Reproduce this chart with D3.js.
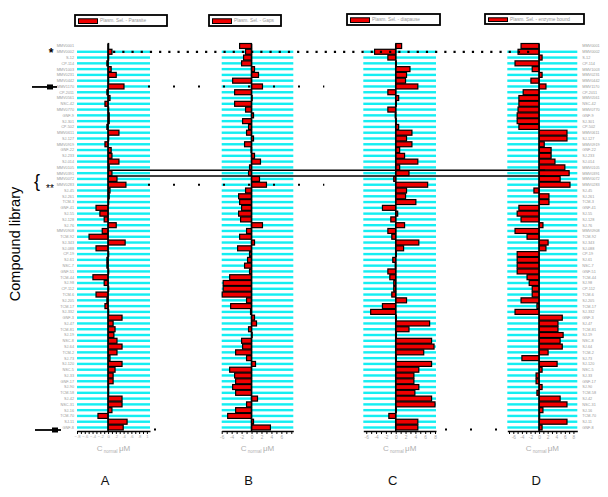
<!DOCTYPE html>
<html><head><meta charset="utf-8">
<script src="https://cdn.jsdelivr.net/npm/d3@7"></script>
<style>body{margin:0;background:#fff}svg{display:block;font-family:"Liberation Sans",Arial,sans-serif}</style>
</head><body><svg id="c" width="608" height="497"></svg>
<script>
// ---------- data ----------
const compounds = ["MMV0001","MMV0002","S-12","CP-114","MMV1003","MMV0231","MMV0442","MMV1170","CP-2011","MMV0561","NSC-42","MMV0770","GNF-9","SJ-301","CP-502","MMV0611","SJ-127","MMV0919","GNF-22","SJ-233","SJ-014","MMV0105","MMV0391","MMV0072","MMV0283","SJ-45","SJ-261","TCM-3","GNF-41","SJ-55","SJ-128","SJ-76","MMV0908","TCM-92","SJ-343","SJ-088","CP-19","SJ-61","NSC-7","GNF-51","TCM-44","SJ-98","CP-112","TCM-6","SJ-205","TCM-17","SJ-332","GNF-3","SJ-47","TCM-81","SJ-19","NSC-8","SJ-64","TCM-2","SJ-73","SJ-120","NSC-5","SJ-33","GNF-17","SJ-90","TCM-58","SJ-42","NSC-31","SJ-16","TCM-70","SJ-11","GNF-8"];
const panelLetters = ["A","B","C","D"];
const legendLabels = ["Plasm. Sel. - Parasite","Plasm. Sel. - Gaps","Plasm. Sel. - diapause","Plasm. Sel. - enzyme bound"];
const valuesA = [0.01,0.10,0.01,-0.03,0.08,0.21,0.01,0.41,-0.03,0.05,-0.08,0.01,0.03,0.03,-0.03,0.28,0.01,-0.08,0.08,0.10,0.28,0.03,0.10,0.23,0.46,0.05,0.03,0.01,-0.31,-0.21,-0.10,0.21,-0.15,-0.49,0.44,-0.31,0.01,-0.03,-0.03,0.01,-0.39,-0.10,0.01,-0.31,-0.03,-0.08,0.01,0.36,0.13,0.18,0.15,0.23,0.36,0.23,0.05,0.36,0.18,0.13,0.13,0.01,0.01,0.36,0.36,0.10,-0.26,0.49,0.39];
const valuesB = [-2.4,-1.2,-1.6,-2.0,0.6,1.4,-3.8,2.2,-3.4,0.1,-3.4,-1.2,0.4,-1.8,-0.6,-1.0,0.4,-1.4,-0.1,0.6,1.8,-0.4,-0.6,1.6,3.0,-1.2,-2.6,-2.4,-2.0,-2.6,-2.2,2.2,-1.0,-2.4,0.6,-2.8,-0.4,-0.8,-1.4,-0.4,-4.4,-5.7,-5.7,-5.9,-1.0,-4.2,-0.2,0.6,1.0,-0.6,0.1,-2.0,-1.8,-3.2,-1.0,0.8,-4.4,-3.4,-3.2,-3.8,-3.2,1.2,-1.0,-3.2,-4.8,0.4,3.8];
const valuesC = [1.2,-4.3,-1.6,0.1,2.9,2.2,2.0,4.5,-1.6,0.6,0.1,-1.6,-0.1,0.1,0.6,3.3,2.2,3.3,0.8,1.8,4.5,0.8,2.7,-0.4,6.5,2.2,2.0,4.1,-2.7,0.4,-1.0,1.8,-1.6,-0.8,4.7,1.6,0.1,-0.6,-0.1,-1.6,-1.2,-0.4,-0.4,-0.8,2.2,-2.7,-5.1,0.1,6.9,2.7,0.1,7.3,7.8,5.7,0.1,7.3,4.7,3.7,3.7,4.7,3.9,7.3,8.0,0.1,-1.4,4.5,4.5];
const valuesD = [-4.2,-4.9,0.7,-5.6,-1.6,0.7,-1.9,1.6,-3.7,-4.7,-4.7,-4.9,-5.1,-5.1,-4.7,6.5,6.5,1.2,2.8,2.8,3.7,6.0,7.0,4.9,7.2,-1.2,2.3,2.3,-4.7,-5.1,-4.2,0.9,-5.6,-2.8,2.1,1.6,-5.1,-5.1,-5.1,-5.1,-2.8,-2.3,-1.6,-1.6,-4.2,-0.5,-5.6,5.4,4.4,4.4,5.6,4.9,5.4,2.1,-4.0,4.2,0.7,-0.7,-0.7,0.7,-0.5,4.9,6.5,0.9,0.1,6.5,0.7];
const domainA = [-0.8, 1.08], domainB = [-6, 8.4], domainC = [-6.6, 8.2], domainD = [-7.4, 8.9];
const ticksA = d3.range(-8, 11).map(d => d / 10);
const ticksB = d3.range(-6, 9), ticksC = d3.range(-6, 9), ticksD = d3.range(-7, 9);
const labelTicksA = [-0.8,-0.6,-0.4,-0.2,0,0.2,0.4,0.6,0.8,1];
const labelTicksB = [-6,-4,-2,0,2,4,6], labelTicksC = [-6,-4,-2,0,2,4,6,8], labelTicksD = [-6,-4,-2,0,2,4,6,8];
// annotated rows (indices into compounds)
const starRow = 1, arrowRows = [7, 66], boxRow = 22, bracketRow = 24;

// ---------- layout ----------
const svg = d3.select("#c");
const ranges = [[77,150],[221.7,293.3],[363.3,436],[507.3,577.3]];
const domains = [domainA, domainB, domainC, domainD];
const seriesVals = [valuesA, valuesB, valuesC, valuesD];
const tickSets = [ticksA, ticksB, ticksC, ticksD];
const labelSets = [labelTicksA, labelTicksB, labelTicksC, labelTicksD];
const legendBoxes = [[75,15,92,11],[209,15,72,11],[347,14,93,11],[485,14,99,10]];
const axisY = 431;
const y = d3.scalePoint().domain(compounds).range([46, 427.5]);
const step = y.step();
const xs = ranges.map((r,i) => d3.scaleLinear().domain(domains[i]).range(r));
const fmtA = d => d === 0 ? "0" : d3.format(".1f")(d).replace("0.", ".").replace(".0", "");

xs.forEach((x, i) => {
  const g = svg.append("g");
  const vals = seriesVals[i];
  // cyan row lines
  g.selectAll("rect.cy").data(compounds.slice(1)).join("rect")
    .attr("x", x.range()[0]).attr("width", x.range()[1] - x.range()[0])
    .attr("y", d => y(d) - 1.2).attr("height", 2.4).attr("fill", "#14eef2");
  // bars
  g.selectAll("rect.bar").data(compounds).join("rect")
    .attr("x", (d,j) => Math.min(x(0), x(vals[j])))
    .attr("width", (d,j) => Math.max(0.6, Math.abs(x(vals[j]) - x(0))))
    .attr("y", d => y(d) - step/2 + 0.4).attr("height", step - 0.8)
    .attr("fill", "#f00000").attr("stroke", "#000").attr("stroke-width", 1.2);
  // zero line
  g.append("line").attr("x1", x(0)).attr("x2", x(0)).attr("y1", 44).attr("y2", axisY)
    .attr("stroke", "#000").attr("stroke-width", 1.5);
  // axis
  const labs = labelSets[i];
  const ax = g.append("g").attr("transform", `translate(0,${axisY})`)
    .call(d3.axisBottom(x).tickValues(tickSets[i]).tickSize(3).tickSizeOuter(0).tickPadding(1.5)
      .tickFormat(d => labs.some(v => Math.abs(v - d) < 1e-9) ? (i === 0 ? fmtA(d) : d) : ""));
  ax.select(".domain").attr("stroke", "#000").attr("stroke-width", 1.6);
  ax.selectAll(".tick line").attr("stroke", "#000").attr("stroke-width", 1);
  ax.selectAll(".tick text").attr("fill", "#aaa").attr("font-size", i === 0 ? 4.2 : 4.8).attr("font-family", "Liberation Sans, Arial");
  // axis title
  const cx = (x.range()[0] + x.range()[1]) / 2;
  const t = g.append("text").attr("x", cx).attr("y", 451).attr("text-anchor", "middle")
    .attr("fill", "#b0b0b0").attr("font-size", 8);
  t.append("tspan").text("C");
  t.append("tspan").attr("font-size", 4.5).attr("dy", 2).text(" normal ");
  t.append("tspan").attr("dy", -2).text(" μM");
  // panel letter
  g.append("text").attr("x", x(0) - 3).attr("y", 485).attr("text-anchor", "middle")
    .attr("font-size", 13).attr("fill", "#111").text(panelLetters[i]);
  // legend
  const [lx, ly, lw, lh] = legendBoxes[i];
  g.append("rect").attr("x", lx).attr("y", ly).attr("width", lw).attr("height", lh)
    .attr("fill", "#fff").attr("stroke", "#000").attr("stroke-width", 1.8);
  g.append("rect").attr("x", lx + 3.5).attr("y", ly + 3.8).attr("width", 19).attr("height", lh - 6.3)
    .attr("fill", "#f00000").attr("stroke", "#000").attr("stroke-width", 1);
  g.append("text").attr("x", lx + 25).attr("y", ly + lh/2 + 1.7).attr("font-size", 4.8)
    .attr("fill", "#999").text(legendLabels[i]);
});

// compound labels (left of A, right of D)
svg.append("g").selectAll("text").data(compounds).join("text")
  .attr("x", ranges[0][0] - 3).attr("y", d => y(d) + 1.4).attr("text-anchor", "end")
  .attr("font-size", 3.8).attr("fill", "#999").text(d => d);
svg.append("g").selectAll("text").data(compounds).join("text")
  .attr("x", ranges[3][1] + 5).attr("y", d => y(d) + 1.4).attr("text-anchor", "start")
  .attr("font-size", 3.8).attr("fill", "#999").text(d => d);

// ---------- annotations ----------
const ann = svg.append("g");
const [xA, xB, xC, xD] = xs;
// dotted line through starred compound
ann.append("line").attr("x1", xA(0) + 5).attr("x2", xD(0) - 4)
  .attr("y1", y(compounds[starRow])).attr("y2", y(compounds[starRow]))
  .attr("stroke", "#000").attr("stroke-width", 2.2).attr("stroke-dasharray", "2.2,7");
// sparse dotted lines
[arrowRows[0], bracketRow].forEach(r => {
  ann.append("line").attr("x1", ranges[0][1] - 2).attr("x2", ranges[1][1] + 31)
    .attr("y1", y(compounds[r])).attr("y2", y(compounds[r]))
    .attr("stroke", "#000").attr("stroke-width", 2).attr("stroke-dasharray", "2,23");
});
const yBot = y(compounds[arrowRows[1]]);
ann.append("line").attr("x1", ranges[0][1] + 4).attr("x2", ranges[0][1] + 6).attr("y1", yBot + 2).attr("y2", yBot + 2)
  .attr("stroke", "#000").attr("stroke-width", 2);
ann.append("line").attr("x1", ranges[2][1] + 9).attr("x2", ranges[2][1] + 62).attr("y1", yBot + 2).attr("y2", yBot + 2)
  .attr("stroke", "#000").attr("stroke-width", 2).attr("stroke-dasharray", "2,23");
// box around boxed row
[-step/2, step/2].forEach(o => {
  ann.append("line").attr("x1", xA(0) + 2).attr("x2", xD(0) + 6)
    .attr("y1", y(compounds[boxRow]) + o).attr("y2", y(compounds[boxRow]) + o)
    .attr("stroke", "#000").attr("stroke-width", 1.4);
});
// star
ann.append("text").attr("x", 51).attr("y", y(compounds[starRow]) + 5.5).attr("text-anchor", "middle")
  .attr("font-size", 12).attr("font-weight", "bold").attr("fill", "#000").text("*");
// arrows
arrowRows.forEach((r, i) => {
  const yy = y(compounds[r]) + (i ? 2.5 : 0.5);
  ann.append("line").attr("x1", 32 + i*3).attr("x2", 57 + i*4).attr("y1", yy).attr("y2", yy)
    .attr("stroke", "#000").attr("stroke-width", 1.8);
  ann.append("rect").attr("x", 47 + i*5).attr("y", yy - 2.5).attr("width", 6).attr("height", 5).attr("fill", "#000");
});
// bracket with **
ann.append("text").attr("x", 34).attr("y", y(compounds[bracketRow]) + 2).attr("font-size", 18).attr("fill", "#000").text("{");
ann.append("text").attr("x", 46).attr("y", y(compounds[bracketRow]) + 7).attr("font-size", 10).attr("fill", "#000").text("**");
// y-axis title
svg.append("text").attr("transform", "translate(20,244) rotate(-90)").attr("text-anchor", "middle")
  .attr("font-size", 14.5).attr("fill", "#000").text("Compound library");
</script></body></html>
